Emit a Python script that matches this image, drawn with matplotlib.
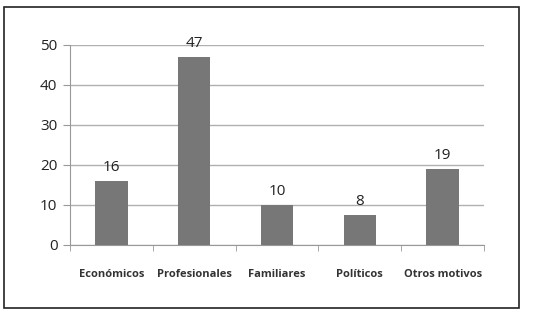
import matplotlib.pyplot as plt
from matplotlib.patches import Rectangle
import numpy as np

motivos = ["Económicos", "Profesionales", "Familiares", "Políticos", "Otros motivos"]
valores = [16, 47, 10, 7.6, 19]
etiquetas = ["16", "47", "10", "8", "19"]

fig = plt.figure(figsize=(5.53, 3.13), dpi=100)
ax = fig.add_axes([70 / 553, 1 - 245 / 313, 414 / 553, 200 / 313])

x = np.arange(len(motivos))
barras = ax.bar(x, valores, width=0.39, color="#777777", zorder=3)
for b, txt in zip(barras, etiquetas):
    ax.annotate(txt, (b.get_x() + b.get_width() / 2, b.get_height()),
                xytext=(0, 4), textcoords="offset points",
                ha="center", va="bottom", fontsize=11, family="Open Sans", color="#222222")

ax.set_xlim(-0.5, len(motivos) - 0.5)
ax.set_ylim(0, 50)
ax.set_yticks(range(0, 51, 10))
ax.yaxis.grid(True, color="#b0b0b0", linewidth=1, zorder=0)

ax.set_xticks(x)
ax.set_xticklabels(motivos, fontsize=8, fontweight="bold", family="Open Sans", color="#333333")
ax.set_xticks(np.arange(-0.5, len(motivos)), minor=True)
ax.tick_params(axis="x", which="major", length=0, pad=17)
ax.tick_params(axis="x", which="minor", length=4, color="#999999", direction="out")
ax.tick_params(axis="y", length=5, color="#999999", labelsize=11, pad=4)
for lab in ax.get_yticklabels():
    lab.set_family("Open Sans")
    lab.set_color("#222222")

for s in ["top", "right"]:
    ax.spines[s].set_visible(False)
ax.spines["left"].set_color("#999999")
ax.spines["bottom"].set_color("#999999")

fig.patches.append(Rectangle((4 / 553, 1 - 308 / 313), 515 / 553, 301 / 313,
                             transform=fig.transFigure, fill=False,
                             edgecolor="#222222", linewidth=1.2))

plt.savefig("out.png", dpi=100)
